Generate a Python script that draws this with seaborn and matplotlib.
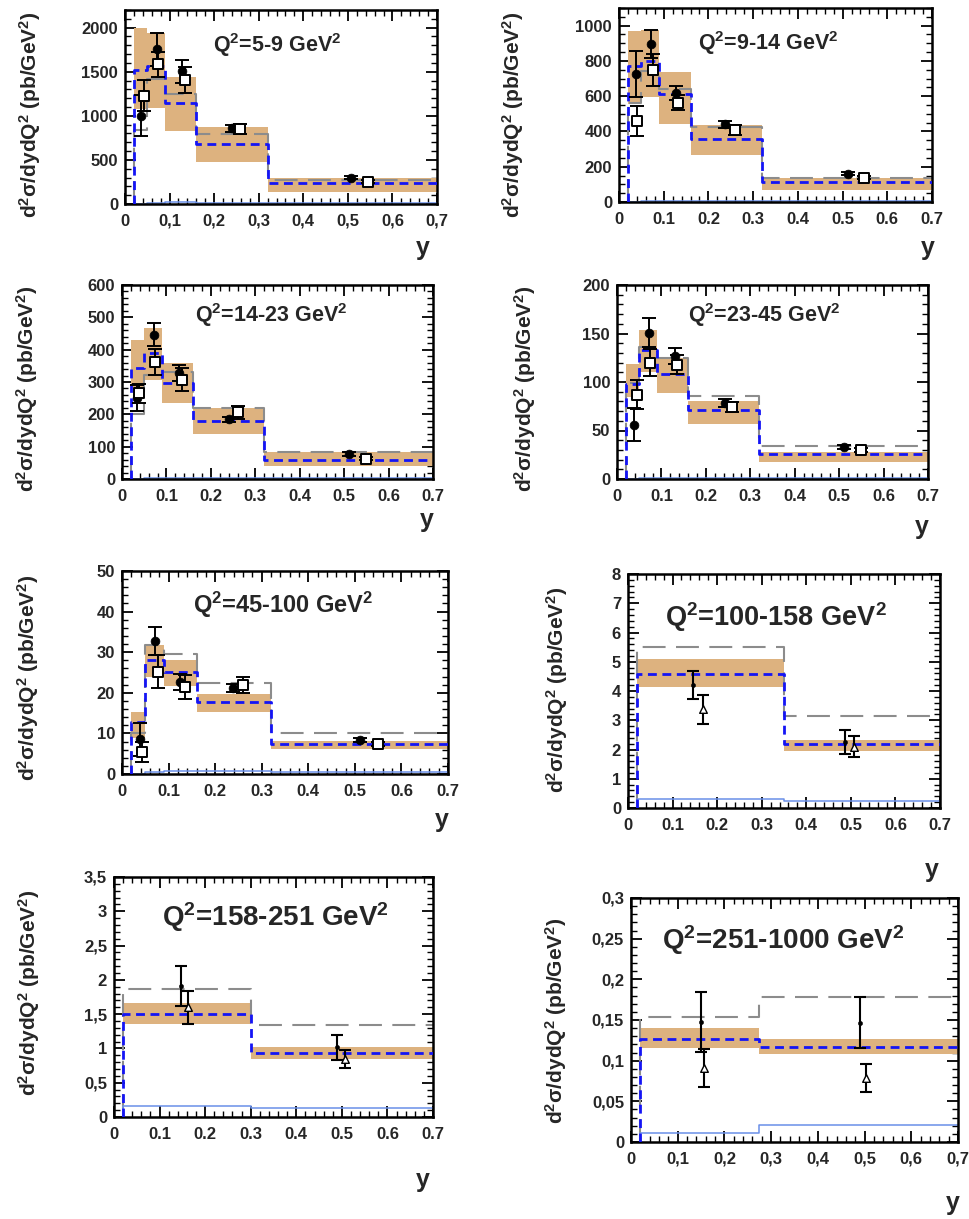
import matplotlib
matplotlib.use("Agg")
import matplotlib.pyplot as plt
from matplotlib.ticker import MultipleLocator, FuncFormatter
import numpy as np
import pandas as pd
import seaborn as sns

sns.set_style("ticks")
plt.rcParams['font.family'] = ['Liberation Sans', 'DejaVu Sans']
plt.rcParams['font.weight'] = 'bold'
plt.rcParams['mathtext.fontset'] = 'custom'
plt.rcParams['mathtext.rm'] = 'Liberation Sans:bold'
plt.rcParams['mathtext.it'] = 'Liberation Sans:bold'
plt.rcParams['mathtext.bf'] = 'Liberation Sans:bold'

# ---------------------------------------------------------------- data
TITLES = ["Q$^{2}$=5-9 GeV$^{2}$", "Q$^{2}$=9-14 GeV$^{2}$",
          "Q$^{2}$=14-23 GeV$^{2}$", "Q$^{2}$=23-45 GeV$^{2}$",
          "Q$^{2}$=45-100 GeV$^{2}$", "Q$^{2}$=100-158 GeV$^{2}$",
          "Q$^{2}$=158-251 GeV$^{2}$", "Q$^{2}$=251-1000 GeV$^{2}$"]
Y_LABEL = "d$^{2}$σ/dydQ$^{2}$ (pb/GeV$^{2}$)"

# y-bin edges of each Q² slice
EDGES = [
    [0.02, 0.05, 0.09, 0.16, 0.32, 0.70],
    [0.02, 0.05, 0.09, 0.16, 0.32, 0.70],
    [0.02, 0.05, 0.09, 0.16, 0.32, 0.70],
    [0.02, 0.05, 0.09, 0.16, 0.32, 0.70],
    [0.02, 0.05, 0.09, 0.16, 0.32, 0.70],
    [0.02, 0.35, 0.70],
    [0.02, 0.30, 0.70],
    [0.02, 0.275, 0.70],
]

# prediction uncertainty band (lower / upper edge per bin)
BAND_LO = [
    [1080, 1090, 830, 475, 140],
    [554, 596, 444, 266, 70],
    [280, 307, 235, 139, 41],
    [85, 110, 89, 57, 17.5],
    [8.8, 23.8, 21.6, 15.3, 6.1],
    [4.12, 1.96],
    [1.352, 0.845],
    [0.116, 0.108],
]
BAND_HI = [
    [2000, 1935, 1445, 875, 292],
    [971, 975, 738, 436, 137],
    [430, 468, 358, 221, 82],
    [119, 154, 125, 80, 27.4],
    [15.2, 31.7, 28.0, 19.6, 8.2],
    [5.09, 2.33],
    [1.656, 1.014],
    [0.140, 0.127],
]

# central prediction (blue dashed)
CENTRAL = [
    [1514, 1566, 1150, 678, 235],
    [772, 797, 611, 355, 114],
    [343, 389, 296, 180, 58],
    [98, 133, 108, 71, 25.7],
    [12.9, 28.0, 25.2, 17.8, 7.5],
    [4.58, 2.20],
    [1.507, 0.94],
    [0.1266, 0.1171],
]

# alternative prediction (grey long dashes)
ALT = [
    [842, 1412, 1245, 795, 273],
    [560, 740, 639, 427, 137],
    [200, 322, 330, 219, 82],
    [99, 136, 125, 86, 34.3],
    [10.2, 31.7, 29.5, 22.5, 10.2],
    [5.5, 3.16],
    [1.873, 1.337],
    [0.154, 0.178],
]

# small contribution (thin light-blue line)
SMALL = [
    [0, 15, 18, 15, 10],
    [0, 6, 6, 5, 3],
    [0, 3, 3, 3, 2],
    [0, 1.5, 1.5, 1.5, 1.0],
    [0, 0.5, 0.8, 0.8, 0.5],
    [0.32, 0.25],
    [0.155, 0.125],
    [0.0115, 0.0214],
]

# measurement A (filled markers)
A_X = [
    [0.035, 0.071, 0.127, 0.239, 0.508],
    [0.039, 0.071, 0.127, 0.237, 0.513],
    [0.034, 0.071, 0.128, 0.240, 0.511],
    [0.038, 0.071, 0.131, 0.244, 0.511],
    [0.038, 0.070, 0.124, 0.238, 0.512],
    [0.146, 0.487],
    [0.147, 0.489],
    [0.150, 0.4895],
]
A_Y = [
    [1002, 1753, 1505, 861, 300],
    [725, 896, 620, 440, 161],
    [250, 446, 327, 185, 77],
    [56, 151, 127, 78, 32.6],
    [8.5, 32.8, 22.7, 21.1, 8.4],
    [4.21, 2.25],
    [1.907, 1.014],
    [0.148, 0.1467],
]
A_ERR = [
    [230, 190, 130, 40, 20],
    [130, 80, 40, 20, 10],
    [40, 35, 25, 8, 5],
    [17, 15, 8, 4, 2],
    [4, 3.5, 2, 1, 0.5],
    [0.47, 0.40],
    [0.29, 0.18],
    [0.037, 0.031],
]

# measurement B (open markers)
B_X = [
    [0.043, 0.075, 0.135, 0.258, 0.545],
    [0.041, 0.075, 0.133, 0.259, 0.547],
    [0.038, 0.075, 0.134, 0.260, 0.550],
    [0.045, 0.075, 0.134, 0.259, 0.550],
    [0.042, 0.077, 0.135, 0.260, 0.550],
    [0.168, 0.508],
    [0.163, 0.506],
    [0.157, 0.502],
]
B_Y = [
    [1230, 1583, 1404, 850, 254],
    [459, 748, 564, 408, 137],
    [265, 361, 307, 206, 63],
    [87, 120, 118, 74, 30],
    [5.5, 25.2, 21.5, 21.9, 7.4],
    [3.38, 2.10],
    [1.60, 0.85],
    [0.0912, 0.0789],
]
B_ERR = [
    [180, 140, 150, 60, 20],
    [85, 90, 40, 30, 8],
    [30, 40, 35, 20, 5],
    [15, 14, 10, 5, 2],
    [2.5, 4, 3, 2, 0.5],
    [0.50, 0.35],
    [0.24, 0.13],
    [0.023, 0.017],
]

# axis scales: y max, major step, minor step
Y_MAX = [2200, 1100, 600, 200, 50, 8, 3.5, 0.3]
Y_MAJOR = [500, 200, 100, 50, 10, 1, 0.5, 0.05]
Y_MINOR = [100, 50, 20, 10, 2, 0.2, 0.1, 0.01]
X_COMMA = [True, False, False, False, False, False, False, True]
Y_COMMA = [False, False, False, False, False, False, True, True]

# ---------------------------------------------------------------- layout
W, H = 969, 1219
# axes boxes in pixels: left, top, right, bottom
BOXES = [(125, 10, 437, 204), (619, 8, 932, 202),
         (122, 285, 433, 479), (617, 285, 928, 479),
         (122, 571, 448, 774), (628, 574, 940, 808),
         (114, 877, 433, 1117), (631, 898, 958, 1142)]
TITLE_POS = [(213, 45, 15.5), (698, 43, 15.5), (195, 315, 15.5), (688, 315, 15.5),
             (193, 605, 17), (665, 617, 19.5), (162, 917, 20), (662, 940, 20)]
YLAB_POS = [(30, 115), (513, 115), (27, 389), (525, 389),
            (28, 678), (557, 690), (29, 993), (556, 1021)]
XLAB_POS = [(423, 248), (928, 248), (427, 520), (922, 527),
            (442, 820), (932, 870), (423, 1180), (953, 1203)]

TAN = "#DDB27F"
BLUE = "#1414F5"
GREY = "#8C8C8C"
LIGHTBLUE = "#6A8FE8"

fig = plt.figure(figsize=(W / 100, H / 100), dpi=100)


def step_frame(edges, vals):
    xs = [edges[0]] + list(edges[:-1]) + [edges[-1]]
    ys = [0.0] + list(vals) + [vals[-1]]
    return pd.DataFrame({"x": xs, "y": ys})


def fmt(comma):
    def f(v, pos):
        s = "%g" % round(v, 6)
        return s.replace(".", ",") if comma else s
    return FuncFormatter(f)


for i in range(8):
    l, t, r, b = BOXES[i]
    ax = fig.add_axes([l / W, 1 - b / H, (r - l) / W, (b - t) / H])
    edges = EDGES[i]
    lefts = edges[:-1]
    widths = np.diff(edges)
    lo = np.array(BAND_LO[i])
    hi = np.array(BAND_HI[i])
    ax.bar(lefts, hi - lo, width=widths, bottom=lo, align="edge",
           color=TAN, linewidth=0, zorder=1)

    sns.lineplot(data=step_frame(edges, ALT[i]), x="x", y="y", ax=ax,
                 estimator=None, sort=False, drawstyle="steps-post",
                 color=GREY, linewidth=1.5, linestyle=(0, (11, 5)), zorder=2)
    sns.lineplot(data=step_frame(edges, SMALL[i]), x="x", y="y", ax=ax,
                 estimator=None, sort=False, drawstyle="steps-post",
                 color=LIGHTBLUE, linewidth=1.1, zorder=2)
    sns.lineplot(data=step_frame(edges, CENTRAL[i]), x="x", y="y", ax=ax,
                 estimator=None, sort=False, drawstyle="steps-post",
                 color=BLUE, linewidth=2.0, linestyle=(0, (3.2, 2.0)), zorder=3)

    upper = i < 5
    if upper:
        ax.errorbar(A_X[i], A_Y[i], yerr=A_ERR[i], fmt="none", ecolor="black",
                    elinewidth=1.4, capsize=5, capthick=1.4, zorder=4)
        ax.errorbar(B_X[i], B_Y[i], yerr=B_ERR[i], fmt="none", ecolor="black",
                    elinewidth=1.4, capsize=5, capthick=1.4, zorder=4)
        sns.scatterplot(x=A_X[i], y=A_Y[i], ax=ax, marker="o", s=40,
                        color="black", edgecolor="black", zorder=5)
        sns.scatterplot(x=B_X[i], y=B_Y[i], ax=ax, marker="s", s=60,
                        facecolor="white", edgecolor="black", linewidth=1.4,
                        zorder=5)
    else:
        ax.errorbar(A_X[i], A_Y[i], yerr=A_ERR[i], fmt="none", ecolor="black",
                    elinewidth=1.5, capsize=4, capthick=1.5, zorder=4)
        ax.errorbar(B_X[i], B_Y[i], yerr=B_ERR[i], fmt="none", ecolor="black",
                    elinewidth=1.5, capsize=4, capthick=1.5, zorder=4)
        sns.scatterplot(x=A_X[i], y=A_Y[i], ax=ax, marker="o", s=10,
                        color="black", edgecolor="black", zorder=5)
        sns.scatterplot(x=B_X[i], y=B_Y[i], ax=ax, marker="^", s=30,
                        facecolor="white", edgecolor="black", linewidth=1.0,
                        zorder=5)

    ax.set_xlim(0, 0.7)
    ax.set_ylim(0, Y_MAX[i])
    ax.set_xlabel("")
    ax.set_ylabel("")
    ax.xaxis.set_major_locator(MultipleLocator(0.1))
    ax.xaxis.set_minor_locator(MultipleLocator(0.02))
    ax.yaxis.set_major_locator(MultipleLocator(Y_MAJOR[i]))
    ax.yaxis.set_minor_locator(MultipleLocator(Y_MINOR[i]))
    ax.xaxis.set_major_formatter(fmt(X_COMMA[i]))
    ax.yaxis.set_major_formatter(fmt(Y_COMMA[i]))
    ax.tick_params(which="both", direction="in", top=True, right=True,
                   color="black", labelsize=12)
    ax.tick_params(which="major", length=8, width=1.3)
    ax.tick_params(which="minor", length=4, width=1.0)
    ax.tick_params(axis="x", pad=7)
    ax.tick_params(axis="y", pad=5)
    for lab in ax.get_xticklabels() + ax.get_yticklabels():
        lab.set_fontweight("bold")
    for sp in ax.spines.values():
        sp.set_linewidth(1.8)
        sp.set_color("black")

    tx, ty, tfs = TITLE_POS[i]
    fig.text(tx / W, 1 - ty / H, TITLES[i], ha="left", va="center",
             fontsize=tfs, fontweight="bold")
    yx, yy = YLAB_POS[i]
    fig.text(yx / W, 1 - yy / H, Y_LABEL, rotation=90,
             ha="center", va="center", fontsize=15, fontweight="bold")
    xx, xy = XLAB_POS[i]
    fig.text(xx / W, 1 - xy / H, "y", ha="center", va="center",
             fontsize=18, fontweight="bold")

fig.savefig("out.png", dpi=100)
